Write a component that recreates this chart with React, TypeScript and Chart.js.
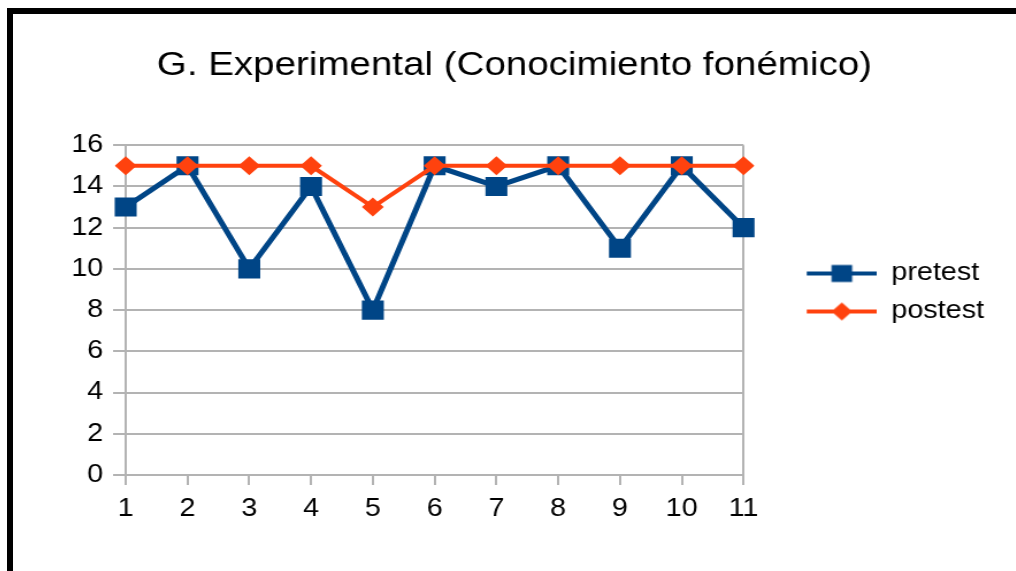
import React, { useEffect, useRef } from 'react';
import { Chart, registerables } from 'chart.js';

Chart.register(...registerables);

const categories = ['1', '2', '3', '4', '5', '6', '7', '8', '9', '10', '11'];
const pretest = [13, 15, 10, 14, 8, 15, 14, 15, 11, 15, 12];
const postest = [15, 15, 15, 15, 13, 15, 15, 15, 15, 15, 15];
const seriesNames = ['pretest', 'postest'];
const yMin = 0;
const yMax = 16;
const yStep = 2;
const chartTitle = 'G. Experimental (Conocimiento fonémico)';

const BLUE = '#004586';
const ORANGE = '#ff420e';
const GRID = '#b3b3b3';
const FONT = "'Liberation Sans', Arial, sans-serif";
const STRETCH = 1.15;
const CW = 872;
const CH = 557;
const PAD_RIGHT = 25;
const LEGEND_GAP = 42;
const LEGEND_LINE = 61;
const LEGEND_SHIFT = 19;

function legendImage(kind: 'rect' | 'diamond', color: string) {
  const c = document.createElement('canvas');
  const w = LEGEND_GAP + LEGEND_LINE;
  c.width = w;
  c.height = 24;
  const g = c.getContext('2d')!;
  g.strokeStyle = color;
  g.lineWidth = 4;
  g.beginPath();
  g.moveTo(LEGEND_GAP, 12);
  g.lineTo(w, 12);
  g.stroke();
  g.fillStyle = color;
  const cx = LEGEND_GAP + LEGEND_LINE / 2;
  if (kind === 'rect') {
    g.fillRect(cx - 9, 12 - 8.5, 18, 17);
  } else {
    g.beginPath();
    g.moveTo(cx, 12 - 9);
    g.lineTo(cx + 9, 12);
    g.lineTo(cx, 12 + 9);
    g.lineTo(cx - 9, 12);
    g.closePath();
    g.fill();
  }
  return c;
}

// widen/shift the legend box and centre the title across the full canvas
const layoutTweaks = {
  id: 'layoutTweaks',
  afterLayout(chart: any) {
    const l = chart.legend;
    if (l) {
      l.right += PAD_RIGHT;
      l.top += LEGEND_SHIFT;
      l.bottom += LEGEND_SHIFT;
    }
    const t = chart.titleBlock;
    if (t) {
      t.left = 0;
      t.right = chart.width;
    }
  },
};

export default function App() {
  const ref = useRef<HTMLCanvasElement | null>(null);

  useEffect(() => {
    if (!ref.current) return;
    const images = [legendImage('rect', BLUE), legendImage('diamond', ORANGE)];
    const lastIndex = categories.length - 1;
    const chart = new Chart(ref.current, {
      type: 'line',
      data: {
        labels: categories,
        datasets: [
          {
            label: seriesNames[0],
            data: pretest,
            borderColor: BLUE,
            backgroundColor: BLUE,
            borderWidth: 5,
            pointStyle: 'rect',
            pointRadius: 13.5,
            pointBorderWidth: 0,
            pointBackgroundColor: BLUE,
            tension: 0,
            order: 1,
          },
          {
            label: seriesNames[1],
            data: postest,
            borderColor: ORANGE,
            backgroundColor: ORANGE,
            borderWidth: 4,
            pointStyle: 'rectRot',
            pointRadius: 9.5,
            pointBorderWidth: 0,
            pointBackgroundColor: ORANGE,
            tension: 0,
            order: 0,
          },
        ],
      },
      options: {
        responsive: false,
        animation: false,
        devicePixelRatio: 1,
        layout: { padding: { left: 0, right: PAD_RIGHT, top: 0, bottom: 38 } },
        plugins: {
          title: {
            display: true,
            text: chartTitle,
            color: '#000',
            font: { family: FONT, size: 33.5, weight: 'normal' },
            padding: { top: 32, bottom: 59 },
          },
          legend: {
            position: 'right',
            align: 'center',
            labels: {
              color: '#000',
              font: { family: FONT, size: 25 },
              usePointStyle: true,
              pointStyleWidth: LEGEND_GAP + LEGEND_LINE,
              padding: 13,
              sort: (a: any, b: any) => a.datasetIndex - b.datasetIndex,
              generateLabels: (ch: any) => {
                const items = Chart.defaults.plugins.legend.labels.generateLabels(ch);
                return items.map((it: any) => ({ ...it, pointStyle: images[it.datasetIndex] }));
              },
            },
          },
          tooltip: { enabled: false },
        },
        scales: {
          x: {
            offset: false,
            grid: {
              display: true,
              drawOnChartArea: true,
              drawTicks: true,
              tickLength: 10,
              lineWidth: 2,
              color: (c: any) => (c.index === lastIndex ? GRID : 'rgba(0,0,0,0)'),
              tickColor: GRID,
            },
            border: { display: true, color: GRID, width: 2 },
            ticks: {
              color: '#000',
              font: { family: FONT, size: 25 },
              padding: 9,
              maxRotation: 0,
              autoSkip: false,
            },
          },
          y: {
            min: yMin,
            max: yMax,
            afterFit: (scale: any) => {
              scale.width = 98;
            },
            grid: {
              color: GRID,
              lineWidth: 2,
              tickLength: 11,
              tickColor: GRID,
            },
            border: { display: true, color: GRID, width: 2 },
            ticks: {
              stepSize: yStep,
              color: '#000',
              font: { family: FONT, size: 25 },
              padding: 8.5,
            },
          },
        },
      },
      plugins: [layoutTweaks],
    });
    return () => chart.destroy();
  }, []);

  return (
    <div
      style={{
        position: 'fixed',
        left: 7,
        top: 8,
        width: 1200,
        height: 800,
        borderLeft: '6px solid #000',
        borderTop: '6px solid #000',
        background: '#fff',
      }}
    >
      <div style={{ transform: `scaleX(${STRETCH})`, transformOrigin: '0 0', width: CW, height: CH }}>
        <canvas ref={ref} width={CW} height={CH} />
      </div>
    </div>
  );
}
